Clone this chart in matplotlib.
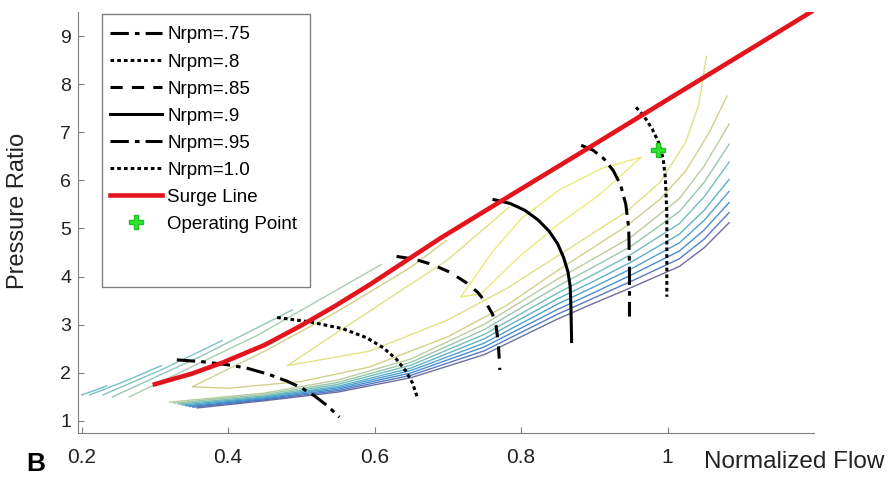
import matplotlib
matplotlib.use('Agg')
import matplotlib.pyplot as plt
from matplotlib.lines import Line2D
from matplotlib.patches import Rectangle

plt.rcParams['font.family'] = ['Liberation Sans', 'DejaVu Sans']

# Surge line
surge_x = [0.297, 0.35, 0.392, 0.45, 0.497, 0.545, 0.593, 0.691, 0.79, 0.883, 1.0, 1.125, 1.2]
surge_y = [1.75, 1.98, 2.21, 2.58, 2.96, 3.38, 3.83, 4.81, 5.73, 6.59, 7.68, 8.84, 9.54]

# Speed lines
n75_x = [0.330, 0.365, 0.398, 0.425, 0.455, 0.480, 0.500, 0.518, 0.535, 0.552]
n75_y = [2.27, 2.23, 2.17, 2.10, 1.97, 1.83, 1.69, 1.52, 1.32, 1.08]
n80_x = [0.467, 0.511, 0.556, 0.589, 0.612, 0.630, 0.643, 0.652, 0.658]
n80_y = [3.15, 3.06, 2.92, 2.73, 2.52, 2.28, 2.03, 1.78, 1.50]
n85_x = [0.630, 0.655, 0.679, 0.703, 0.725, 0.741, 0.752, 0.761, 0.766, 0.769, 0.771]
n85_y = [4.42, 4.36, 4.25, 4.09, 3.875, 3.67, 3.46, 3.22, 2.96, 2.60, 2.06]
n90_x = [0.763, 0.785, 0.805, 0.823, 0.838, 0.850, 0.858, 0.864, 0.867, 0.868, 0.869]
n90_y = [5.60, 5.52, 5.38, 5.18, 4.95, 4.68, 4.40, 4.10, 3.80, 3.40, 2.65]
n95_x = [0.882, 0.898, 0.913, 0.926, 0.936, 0.943, 0.947, 0.948, 0.948]
n95_y = [6.73, 6.63, 6.45, 6.20, 5.90, 5.50, 5.00, 4.20, 3.17]
n100_x = [0.957, 0.968, 0.979, 0.988, 0.994, 0.997, 0.999, 0.999]
n100_y = [7.52, 7.33, 7.07, 6.78, 6.45, 6.05, 5.30, 3.58]

# Operating point
op_x = [0.987]
op_y = [6.63]

# Efficiency contours, lower branches (bottom to top)
low_x = [0.45, 0.55, 0.65, 0.75, 0.85, 0.90, 0.95, 1.016, 1.05, 1.084]
b0_y = [1.42, 1.60, 1.90, 2.38, 3.12, 3.45, 3.77, 4.21, 4.60, 5.12]
b1_y = [1.44, 1.63, 1.95, 2.46, 3.22, 3.56, 3.90, 4.37, 4.78, 5.33]
b2_y = [1.46, 1.66, 2.00, 2.54, 3.32, 3.67, 4.03, 4.53, 4.97, 5.54]
b3_y = [1.48, 1.69, 2.05, 2.62, 3.43, 3.79, 4.16, 4.70, 5.17, 5.77]
b4_y = [1.50, 1.72, 2.10, 2.71, 3.54, 3.91, 4.30, 4.88, 5.38, 6.02]
b5_y = [1.52, 1.76, 2.16, 2.80, 3.66, 4.05, 4.46, 5.10, 5.66, 6.38]
b6_y = [1.55, 1.80, 2.22, 2.90, 3.80, 4.21, 4.63, 5.35, 5.96, 6.75]
b7_y = [1.58, 1.85, 2.29, 3.01, 3.95, 4.38, 4.82, 5.62, 6.30, 7.17]
low_start_x = [0.358, 0.352, 0.347, 0.342, 0.337, 0.332, 0.326, 0.320]
low_start_y = [1.27, 1.285, 1.30, 1.315, 1.33, 1.35, 1.37, 1.39]

# Upper branches (left part, above surge line)
u1_x = [0.200, 0.217, 0.234]
u1_y = [1.54, 1.63, 1.73]
u2_x = [0.211, 0.260, 0.309]
u2_y = [1.54, 1.83, 2.15]
u3_x = [0.229, 0.310, 0.392]
u3_y = [1.54, 2.07, 2.67]
u4_x = [0.242, 0.365, 0.488]
u4_y = [1.50, 2.36, 3.31]
u5_x = [0.265, 0.440, 0.609]
u5_y = [1.50, 2.78, 4.25]

# Inner contours
y1_x = [0.698, 0.65, 0.55, 0.45, 0.351, 0.40, 0.50, 0.593, 0.70, 0.78, 0.852, 0.944, 0.989, 1.025, 1.057, 1.081]
y1_y = [4.75, 4.20, 3.28, 2.45, 1.71, 1.68, 1.82, 2.12, 2.75, 3.40, 4.15, 5.05, 5.60, 6.20, 7.00, 7.75]
y2_x = [0.784, 0.70, 0.62, 0.55, 0.481, 0.593, 0.70, 0.78, 0.852, 0.944, 0.989, 1.025, 1.043, 1.053]
y2_y = [5.45, 4.35, 3.55, 2.85, 2.15, 2.45, 3.10, 3.75, 4.45, 5.35, 5.95, 6.80, 7.60, 8.58]
lens_x = [0.718, 0.76, 0.80, 0.852, 0.91, 0.964, 0.907, 0.852, 0.80, 0.745, 0.718]
lens_y = [3.58, 4.50, 5.20, 5.80, 6.25, 6.48, 5.70, 5.10, 4.45, 3.64, 3.58]

low_cols = ['#55558f', '#3a63b8', '#2a78c8', '#3190c6', '#40a3bf', '#5ab2b0', '#84bd9c', '#aec48e']
up_cols = ['#58aec2', '#5fb3bd', '#6ab8b8', '#80bdb0', '#9cc4a4']

fig = plt.figure(figsize=(8.89, 4.80), dpi=100)
ax = fig.add_axes([0.0877, 0.098, 0.828, 0.877])

lows = [b0_y, b1_y, b2_y, b3_y, b4_y, b5_y, b6_y, b7_y]
for i, ys in enumerate(lows):
    ax.plot([low_start_x[i]] + low_x, [low_start_y[i]] + ys, color=low_cols[i], lw=1.0, alpha=0.85)
ups = [(u1_x, u1_y), (u2_x, u2_y), (u3_x, u3_y), (u4_x, u4_y), (u5_x, u5_y)]
for i, (xs, ys) in enumerate(ups):
    ax.plot(xs, ys, color=up_cols[i], lw=1.0, alpha=0.85)
ax.plot(y1_x, y1_y, color='#d3d088', lw=1.0)
ax.plot(y2_x, y2_y, color='#e2e084', lw=1.0)
ax.plot(lens_x, lens_y, color='#ecea78', lw=1.0)

blk = dict(color='black', lw=2.2)
dashdot = (0, (6, 2, 1.5, 2))
dotted = (0, (1.2, 1.0))
ax.plot(n75_x, n75_y, linestyle=dashdot, **blk)
ax.plot(n80_x, n80_y, linestyle=dotted, **blk)
ax.plot(n85_x, n85_y, linestyle=(0, (4, 3)), **blk)
ax.plot(n90_x, n90_y, linestyle='-', **blk)
ax.plot(n95_x, n95_y, linestyle=dashdot, **blk)
ax.plot(n100_x, n100_y, linestyle=dotted, **blk)
ax.plot(surge_x, surge_y, color='#e3141b', lw=3.3, solid_capstyle='butt')
ax.plot(op_x, op_y, linestyle='none', marker='P', ms=10, color='#2ee82e',
        markeredgecolor='#20c020', zorder=5)

ax.set_xlim(0.195, 1.2)
ax.set_ylim(0.75, 9.5)
ax.set_xticks([0.2, 0.4, 0.6, 0.8, 1.0])
ax.set_xticklabels(['0.2', '0.4', '0.6', '0.8', '1'])
ax.set_yticks(range(1, 10))
for s in ['top', 'right']:
    ax.spines[s].set_visible(False)
for s in ['left', 'bottom']:
    ax.spines[s].set_color('#808080')
ax.tick_params(axis='both', direction='in', length=4, color='#808080', labelcolor='#222222')
ax.tick_params(axis='x', pad=11, labelsize=15)
ax.tick_params(axis='y', pad=5, labelsize=14)

# Legend
frame = Rectangle((0.0326, 0.347), 0.2826, 0.648, transform=ax.transAxes,
                  facecolor='white', edgecolor='#808080', lw=1.0, zorder=6)
ax.add_patch(frame)
hl = [
    Line2D([], [], linestyle=dashdot, **blk),
    Line2D([], [], linestyle=dotted, **blk),
    Line2D([], [], linestyle=(0, (4, 3)), **blk),
    Line2D([], [], linestyle='-', **blk),
    Line2D([], [], linestyle=dashdot, **blk),
    Line2D([], [], linestyle=dotted, **blk),
    Line2D([], [], color='#e3141b', lw=3.3),
    Line2D([], [], linestyle='none', marker='P', ms=10, color='#2ee82e', markeredgecolor='#20c020'),
]
labels = ['Nrpm=.75', 'Nrpm=.8', 'Nrpm=.85', 'Nrpm=.9', 'Nrpm=.95', 'Nrpm=1.0',
          'Surge Line', 'Operating Point']
leg = ax.legend(hl, labels, loc='upper left', bbox_to_anchor=(0.0435, 0.966),
                frameon=False, fontsize=13.5, handlelength=2.75, handletextpad=0.3,
                labelspacing=0.53, borderpad=0, borderaxespad=0)
leg.set_zorder(7)

fig.text(0.995, 0.038, 'Normalized Flow', ha='right', va='center', fontsize=17.5, color='#222222')
fig.text(0.02, 0.56, 'Pressure Ratio', ha='center', va='center', rotation=90, fontsize=17, color='#222222')
fig.text(0.03, 0.033, 'B', ha='left', va='center', fontsize=19, fontweight='bold', color='black')

fig.savefig('out.png', dpi=100)
